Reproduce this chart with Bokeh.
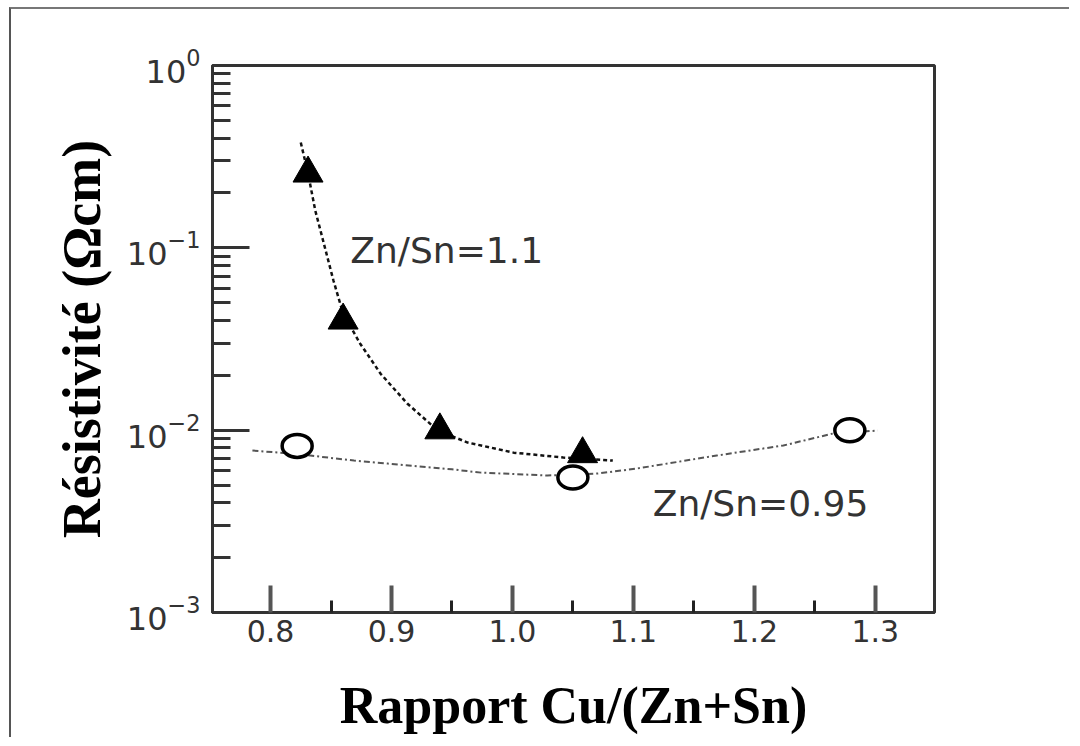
from bokeh.plotting import figure
from bokeh.models import FixedTicker, LogTickFormatter, NumeralTickFormatter, Label, Range1d
from bokeh.embed import file_html
from bokeh.resources import INLINE

# ---- data ----
cu_tri = [0.831, 0.860, 0.940, 1.058]          # Zn/Sn = 1.1
rho_tri = [0.256, 0.040, 0.0100, 0.0074]

cu_circ = [0.822, 1.050, 1.279]                # Zn/Sn = 0.95
rho_circ = [0.0082, 0.0055, 0.0100]

fit_tri_x = [0.825, 0.831, 0.837, 0.844, 0.852, 0.860, 0.874, 0.891, 0.913, 0.938, 0.963, 1.001, 1.042, 1.083]
fit_tri_y = [0.378, 0.256, 0.160, 0.106, 0.0662, 0.0436, 0.0299, 0.0204, 0.0140, 0.0100, 0.00855, 0.00753, 0.00708, 0.00681]

fit_circ_x = [0.785, 0.822, 0.869, 0.897, 0.950, 0.974, 1.029, 1.070, 1.103, 1.169, 1.224, 1.265, 1.302]
fit_circ_y = [0.00773, 0.0074, 0.00681, 0.00656, 0.0061, 0.00585, 0.00564, 0.00578, 0.00616, 0.00726, 0.00824, 0.00958, 0.00995]

x_major = [0.8, 0.9, 1.0, 1.1, 1.2, 1.3]
x_minor = [0.85, 0.95, 1.05, 1.15, 1.25]
y_major = [1e-3, 1e-2, 1e-1, 1e0]
y_minor = [2e-3, 3e-3, 4e-3, 5e-3, 6e-3, 7e-3, 8e-3, 9e-3,
           2e-2, 3e-2, 4e-2, 5e-2, 6e-2, 7e-2, 8e-2, 9e-2,
           2e-1, 3e-1, 4e-1, 5e-1, 6e-1, 7e-1, 8e-1, 9e-1]

label_tri = "Zn/Sn=1.1"
label_circ = "Zn/Sn=0.95"
x_title = "Rapport Cu/(Zn+Sn)"
y_title = "Résistivité (Ωcm)"

p = figure(width=1060, height=730, y_axis_type="log",
           x_range=Range1d(0.752, 1.349), y_range=Range1d(1e-3, 1.0),
           output_backend="svg", toolbar_location=None,
           min_border_left=201, min_border_top=56,
           min_border_right=137, min_border_bottom=127,
           styles={"margin-left": "9px", "margin-top": "7px",
                   "border-left": "2px solid #555555",
                   "border-top": "2px solid #777777"})

p.xgrid.grid_line_color = None
p.ygrid.grid_line_color = None
p.background_fill_color = "white"
p.border_fill_color = "white"
p.outline_line_color = "#333333"
p.outline_line_width = 3
p.outline_line_alpha = 1.0

# x axis
xa = p.xaxis[0]
xa.ticker = FixedTicker(ticks=x_major, minor_ticks=x_minor)
xa.formatter = NumeralTickFormatter(format="0.0")
xa.axis_line_color = "#333333"
xa.axis_line_width = 3
xa.major_tick_in = 27
xa.major_tick_out = 0
xa.major_tick_line_width = 4
xa.major_tick_line_color = "#555555"
xa.minor_tick_in = 12
xa.minor_tick_out = 0
xa.minor_tick_line_width = 3
xa.minor_tick_line_color = "#222222"
xa.major_label_text_font = "DejaVu Sans"
xa.major_label_text_font_size = "30px"
xa.major_label_text_color = "#333333"
xa.major_label_standoff = 7
xa.axis_label = x_title
xa.axis_label_text_font = "Liberation Serif"
xa.axis_label_text_font_style = "bold"
xa.axis_label_text_font_size = "52px"
xa.axis_label_text_color = "black"
xa.axis_label_standoff = 32

# y axis
ya = p.yaxis[0]
ya.ticker = FixedTicker(ticks=y_major, minor_ticks=y_minor)
ya.formatter = LogTickFormatter()
ya.axis_line_color = "#333333"
ya.axis_line_width = 3
ya.major_tick_in = 37
ya.major_tick_out = 0
ya.major_tick_line_width = 3
ya.major_tick_line_color = "#333333"
ya.minor_tick_in = 18
ya.minor_tick_out = 0
ya.minor_tick_line_width = 3
ya.minor_tick_line_color = "#333333"
ya.major_label_text_font = "DejaVu Sans"
ya.major_label_text_font_size = "32px"
ya.major_label_text_color = "#333333"
ya.major_label_standoff = 12
ya.axis_label = y_title
ya.axis_label_text_font = "Liberation Serif"
ya.axis_label_text_font_style = "bold"
ya.axis_label_text_font_size = "54px"
ya.axis_label_text_color = "black"
ya.axis_label_standoff = 12

# fitted curves
p.line(fit_tri_x, fit_tri_y, line_color="#111111", line_width=2.5, line_dash="4 3")
p.line(fit_circ_x, fit_circ_y, line_color="#555555", line_width=2, line_dash="6 3 2 3")

# markers
p.scatter(cu_tri, rho_tri, marker="triangle", size=30,
          fill_color="black", line_color="black")
p.ellipse(cu_circ, rho_circ, width=30, height=23,
          width_units="screen", height_units="screen",
          fill_color="white", line_color="black", line_width=3.5)

# annotations
p.add_layout(Label(x=0.866, y=0.0966, text=label_tri, text_font="DejaVu Sans",
                   text_font_size="36px", text_color="#333333",
                   text_align="left", text_baseline="middle"))
p.add_layout(Label(x=1.116, y=0.00396, text=label_circ, text_font="DejaVu Sans",
                   text_font_size="36px", text_color="#333333",
                   text_align="left", text_baseline="middle"))

open("out.html", "w").write(file_html(p, INLINE))
